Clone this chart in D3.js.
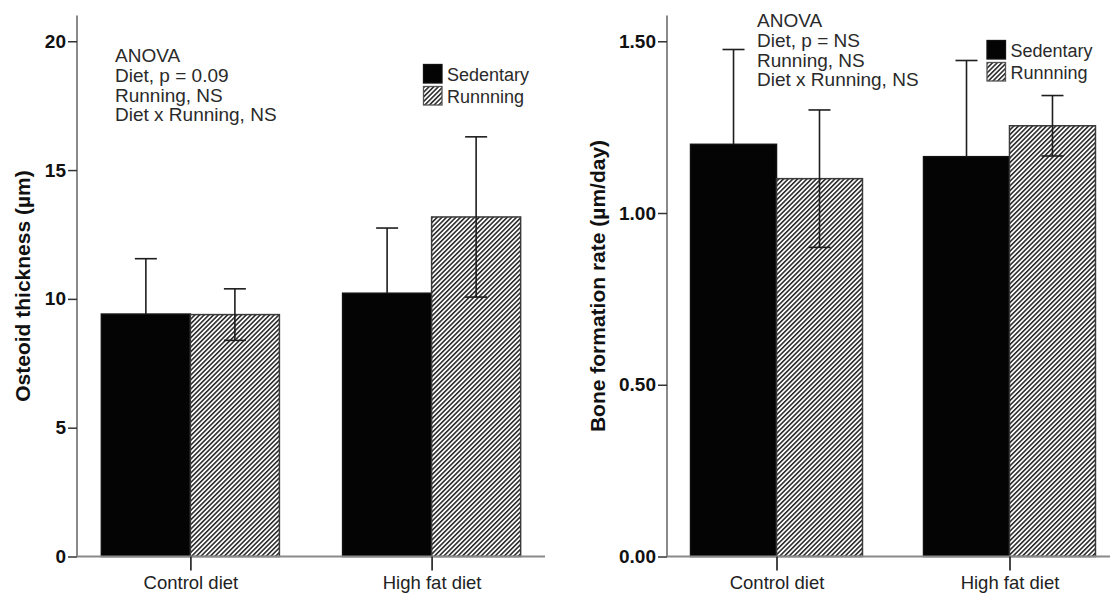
<!DOCTYPE html>
<html>
<head>
<meta charset="utf-8">
<script src="https://cdn.jsdelivr.net/npm/d3@7"></script>
<style>
  body { margin: 0; background: #fff; }
  svg { display: block; }
</style>
</head>
<body>
<div id="chart"></div>
<script>
// categories and groups
var categories = ["Control diet", "High fat diet"];
var groups = ["Sedentary", "Runnning"];

// osteoid thickness (um), mean and error
var osteoidSedentary = [9.41, 10.22];
var osteoidSedentaryErr = [2.15, 2.53];
var osteoidRunning = [9.39, 13.18];
var osteoidRunningErr = [1.0, 3.11];
var osteoidTicks = [0, 5, 10, 15, 20];

// bone formation rate (um/day), mean and error
var bfrSedentary = [1.20, 1.164];
var bfrSedentaryErr = [0.276, 0.28];
var bfrRunning = [1.10, 1.254];
var bfrRunningErr = [0.20, 0.088];
var bfrTicks = [0, 0.5, 1.0, 1.5];

var osteoidNotes = ["ANOVA", "Diet, p = 0.09", "Running, NS", "Diet x Running, NS"];
var bfrNotes = ["ANOVA", "Diet, p = NS", "Running, NS", "Diet x Running, NS"];

var WIDTH = 1110, HEIGHT = 594;
var FONT = "'Liberation Sans', Arial, sans-serif";

var svg = d3.select("#chart").append("svg")
  .attr("width", WIDTH)
  .attr("height", HEIGHT);

// hatch pattern for running bars
var defs = svg.append("defs");
defs.append("pattern")
  .attr("id", "hatch")
  .attr("patternUnits", "userSpaceOnUse")
  .attr("width", 3.3)
  .attr("height", 10)
  .attr("patternTransform", "rotate(45)")
  .call(function(p) {
    p.append("rect").attr("width", 3.3).attr("height", 10).attr("fill", "#fff");
    p.append("line")
      .attr("x1", 0.8).attr("y1", 0).attr("x2", 0.8).attr("y2", 10)
      .attr("stroke", "#2e2e2e").attr("stroke-width", 1.6);
  });

function drawPanel(opt) {
  var g = svg.append("g");

  var y = d3.scaleLinear().domain([0, opt.yMax]).range([opt.base, opt.top]);
  var x = d3.scalePoint().domain(categories).range([opt.left, opt.right]).padding(0.47);
  var step = x.step();
  var barW = step * 0.369;

  var rows = categories.map(function(c, i) {
    return [
      {cat: c, grp: groups[0], v: opt.sed[i], e: opt.sedErr[i], off: -1},
      {cat: c, grp: groups[1], v: opt.run[i], e: opt.runErr[i], off: 0}
    ];
  });
  var bars = d3.merge(rows);
  function cx(d) { return x(d.cat) + (d.off + 0.5) * barW; }

  // bars
  g.selectAll(".bar").data(bars).enter().append("rect")
    .attr("x", function(d) { return x(d.cat) + d.off * barW; })
    .attr("y", function(d) { return y(d.v); })
    .attr("width", barW)
    .attr("height", function(d) { return y(0) - y(d.v); })
    .attr("fill", function(d) { return d.off < 0 ? "#040404" : "url(#hatch)"; })
    .attr("stroke", function(d) { return d.off < 0 ? "#111" : "#3a3a3a"; })
    .attr("stroke-width", 1.5);

  // error bars; the lower half is hidden inside the black bars
  var cap = 11;
  var eb = g.selectAll(".err").data(bars).enter().append("g")
    .attr("stroke", "#1e1e1e").attr("stroke-width", 1.6).attr("fill", "none");
  eb.append("line")
    .attr("x1", cx).attr("x2", cx)
    .attr("y1", function(d) { return d.off < 0 ? y(d.v) : y(d.v - d.e); })
    .attr("y2", function(d) { return y(d.v + d.e); });
  eb.append("line")
    .attr("x1", function(d) { return cx(d) - cap; })
    .attr("x2", function(d) { return cx(d) + cap; })
    .attr("y1", function(d) { return y(d.v + d.e); })
    .attr("y2", function(d) { return y(d.v + d.e); });
  eb.filter(function(d) { return d.off == 0; }).append("line")
    .attr("x1", function(d) { return cx(d) - cap; })
    .attr("x2", function(d) { return cx(d) + cap; })
    .attr("y1", function(d) { return y(d.v - d.e); })
    .attr("y2", function(d) { return y(d.v - d.e); });

  // x axis line
  g.append("line")
    .attr("x1", opt.left).attr("x2", opt.right)
    .attr("y1", y(0)).attr("y2", y(0))
    .attr("stroke", "#8a8a8a").attr("stroke-width", 2);

  // y axis line
  g.append("line")
    .attr("x1", opt.left).attr("x2", opt.left)
    .attr("y1", y(0)).attr("y2", y(opt.yMax))
    .attr("stroke", "#8a8a8a").attr("stroke-width", 2);

  // y axis ticks
  var yAxis = g.append("g")
    .attr("transform", "translate(" + opt.left + ",0)")
    .call(d3.axisLeft(y).tickValues(opt.ticks).tickFormat(d3.format(opt.fmt)).tickSize(9).tickPadding(2));
  yAxis.select(".domain").remove();
  yAxis.selectAll(".tick line").attr("stroke", "#333").attr("stroke-width", 1.5);
  yAxis.selectAll("text")
    .style("font-family", FONT).style("font-size", "19px").style("font-weight", "bold")
    .attr("fill", "#111");

  // x axis ticks
  var xAxis = g.append("g")
    .attr("transform", "translate(0," + y(0) + ")")
    .call(d3.axisBottom(x).tickSize(14).tickPadding(5));
  xAxis.select(".domain").remove();
  xAxis.selectAll(".tick line").attr("stroke", "#333").attr("stroke-width", 1.8);
  xAxis.selectAll("text")
    .style("font-family", FONT).style("font-size", "18.5px")
    .attr("fill", "#222");

  // y title
  g.append("text")
    .attr("transform", "translate(" + opt.titleX + "," + 286 + ") rotate(-90)")
    .attr("text-anchor", "middle")
    .attr("dy", "0.35em")
    .style("font-family", FONT).style("font-size", "21px").style("font-weight", "bold")
    .attr("fill", "#111")
    .text(opt.title);

  // anova notes
  g.append("g").selectAll("text").data(opt.notes).enter().append("text")
    .attr("x", opt.noteX)
    .attr("y", function(d, i) { return opt.noteY + i * 19.7; })
    .style("font-family", FONT).style("font-size", "19px")
    .attr("fill", "#2a2a2a")
    .text(function(d) { return d; });

  // legend
  var lg = g.append("g").attr("transform", "translate(" + opt.legX + "," + opt.legY + ")");
  var item = lg.selectAll("g").data(groups).enter().append("g")
    .attr("transform", function(d, i) { return "translate(0," + (i * 22) + ")"; });
  item.append("rect")
    .attr("width", 18.5).attr("height", 18.5)
    .attr("fill", function(d, i) { return i == 0 ? "#040404" : "url(#hatch)"; })
    .attr("stroke", function(d, i) { return i == 0 ? "#111" : "#555"; })
    .attr("stroke-width", 1.3);
  item.append("text")
    .attr("x", 23.5).attr("y", 16.5)
    .style("font-family", FONT).style("font-size", "18px")
    .attr("fill", "#2a2a2a")
    .text(function(d) { return d; });
}

drawPanel({
  left: 77, right: 545, base: 556.5, top: 15.5, yMax: 21,
  sed: osteoidSedentary, sedErr: osteoidSedentaryErr,
  run: osteoidRunning, runErr: osteoidRunningErr,
  ticks: osteoidTicks, fmt: "d",
  title: "Osteoid thickness (\u00b5m)", titleX: 23,
  notes: osteoidNotes, noteX: 115, noteY: 62.3,
  legX: 423.5, legY: 64.5
});

drawPanel({
  left: 667, right: 1119, base: 556.5, top: 15.5, yMax: 1.575,
  sed: bfrSedentary, sedErr: bfrSedentaryErr,
  run: bfrRunning, runErr: bfrRunningErr,
  ticks: bfrTicks, fmt: ".2f",
  title: "Bone formation rate (\u00b5m/day)", titleX: 598,
  notes: bfrNotes, noteX: 757, noteY: 27.3,
  legX: 987, legY: 40.5
});
</script>
</body>
</html>
